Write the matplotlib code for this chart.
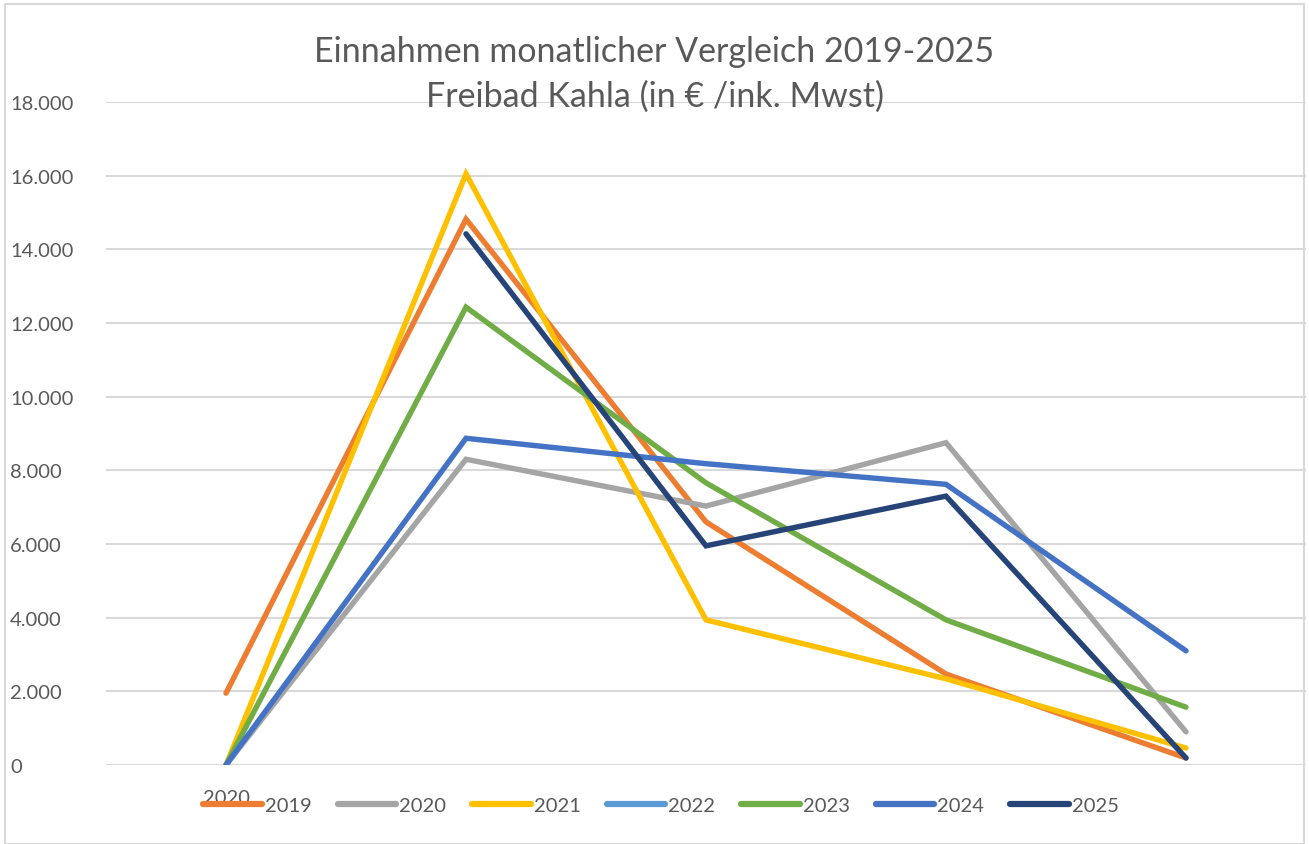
import matplotlib.pyplot as plt
import numpy as np
from matplotlib.patches import Rectangle
from matplotlib.ticker import FuncFormatter

# five data points per year, only the first category carries a label
categories = ["2020", "", "", "", ""]
years = ["2019", "2020", "2021", "2022", "2023", "2024", "2025"]

v2019 = [1950, 14820, 6600, 2470, 190]
v2020 = [0, 8300, 7030, 8750, 900]
v2021 = [0, 16050, 3940, 2340, 460]
v2022 = [np.nan, np.nan, np.nan, np.nan, np.nan]
v2023 = [0, 12430, 7660, 3940, 1570]
v2024 = [0, 8870, 8180, 7620, 3100]
v2025 = [np.nan, 14420, 5950, 7300, 190]

colors = ["#ED7D31", "#A5A5A5", "#FFC000", "#5B9BD5", "#70AD47", "#4472C4", "#264478"]
series = [v2019, v2020, v2021, v2022, v2023, v2024, v2025]

plt.rcParams['font.family'] = ['Lato', 'DejaVu Sans']

fig = plt.figure(figsize=(13.09, 8.45), dpi=100)
ax = fig.add_axes([106 / 1309, 79 / 845, 1200 / 1309, 663 / 845])

x = np.arange(len(categories))
for name, vals, c in zip(years, series, colors):
    ax.plot(x, vals, color=c, lw=3.9, label=name, solid_capstyle='round',
            solid_joinstyle='miter')

ax.set_xlim(-0.5, 4.5)
ax.set_ylim(0, 18000)
ax.set_yticks(np.arange(0, 18001, 2000))
ax.yaxis.set_major_formatter(FuncFormatter(lambda v, p: f"{int(v):,}".replace(",", ".")))
ax.grid(axis='y', color='#D9D9D9', lw=1.5)
ax.set_axisbelow(True)
for s in ax.spines.values():
    s.set_visible(False)
ax.tick_params(axis='y', length=0, pad=69, labelsize=14.5, labelcolor='#595959')
for lbl in ax.get_yticklabels():
    lbl.set_horizontalalignment('left')
ax.set_xticks(x)
ax.set_xticklabels(categories)
ax.tick_params(axis='x', length=0, pad=17, labelsize=14.5, labelcolor='#595959')

fig.text(0.5, 1 - 52 / 845, "Einnahmen monatlicher Vergleich 2019-2025", ha='center', va='center',
         fontsize=24.5, color='#595959')
fig.text(0.5, 1 - 97 / 845, "Freibad Kahla (in € /ink. Mwst)", ha='center', va='center',
         fontsize=24.5, color='#595959')

leg = fig.legend(loc='center', bbox_to_anchor=(0.505, 1 - 806 / 845), ncol=7, frameon=False,
                 fontsize=14.5, labelcolor='#595959', handlelength=2.9, handletextpad=0.15,
                 columnspacing=1.3)
for h in leg.get_lines():
    h.set_linewidth(4.5)

fig.patches.append(Rectangle((5 / 1309, 0), 1299 / 1309, 1 - 5 / 845, transform=fig.transFigure,
                             fill=False, edgecolor='#D9D9D9', lw=1.5))

fig.savefig("out.png", dpi=100)
